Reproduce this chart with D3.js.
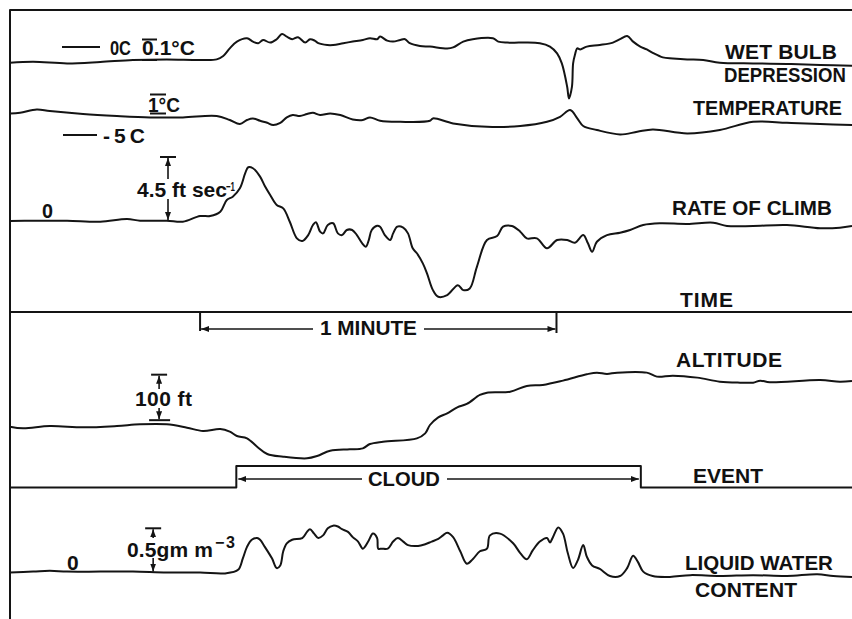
<!DOCTYPE html>
<html>
<head>
<meta charset="utf-8">
<script src="https://cdn.jsdelivr.net/npm/d3@7"></script>
<style>
  body { margin: 0; background: #fff; }
  svg { display: block; }
  text { font-family: "Liberation Sans", Arial, sans-serif; font-weight: bold; fill: #111; }
</style>
</head>
<body>
<div id="wrapper"></div>
<script>
const wetBulb = [[0,-0.079],[3.9,-0.074],[9.6,-0.082],[15.2,-0.075],[20.7,-0.065],[26.4,-0.062],[32.0,-0.065],[34.8,-0.062],[35.9,-0.045],[37.0,-0.007],[38.2,0.027],[39.9,0.044],[40.9,0.027],[41.8,0.019],[42.6,0.035],[43.8,0.022],[44.9,0.039],[45.8,0.065],[46.6,0.052],[47.5,0.039],[48.5,0.049],[49.7,0.022],[50.5,0.039],[51.3,0.032],[51.9,0.019],[53.4,0.010],[54.4,0.010],[56.1,0.019],[57.7,0.027],[59.4,0.035],[60.6,0.044],[61.8,0.039],[62.3,0.052],[63.5,0.032],[64.5,0.027],[65.7,0.035],[66.5,0.039],[67.3,0.019],[69.0,0.005],[70.7,0.002],[73.6,-0.007],[74.6,-0.002],[76.3,0.027],[77.9,0.039],[81.3,0.044],[82.2,0.027],[83.7,0.022],[85.9,0.022],[89.2,0.019],[90.9,0.002],[92.1,-0.032],[92.9,-0.082],[93.8,-0.199],[94.1,-0.257],[94.6,-0.199],[94.8,-0.082],[95.1,-0.040],[95.5,-0.007],[96.0,-0.012],[97.1,0.002],[99.3,0.010],[101.5,0.022],[102.7,0.039],[103.9,0.055],[104.9,0.027],[106.1,0.002],[107.2,-0.012],[108.2,-0.029],[109.9,-0.052],[111.6,-0.057],[114.0,-0.062],[116.7,-0.065],[119.5,-0.079],[125.1,-0.082],[130.8,-0.085],[136.4,-0.090],[141.75,-0.094]]; // deg C

const temperature = [[0,-3.92],[1.7,-3.89],[4.5,-3.72],[6.7,-3.80],[12.3,-3.95],[18.0,-4.05],[23.6,-4.12],[29.1,-4.12],[34.8,-4.05],[37.0,-4.25],[38.7,-4.45],[39.9,-4.25],[40.9,-4.17],[42.1,-4.29],[43.3,-4.39],[44.3,-4.50],[45.5,-4.39],[46.6,-4.12],[47.6,-4.00],[48.8,-4.05],[50.0,-3.95],[51.0,-3.89],[52.2,-4.00],[53.9,-3.92],[55.6,-4.00],[57.7,-4.22],[59.4,-4.25],[60.6,-4.12],[62.3,-4.29],[65.7,-4.34],[70.7,-4.29],[71.2,-4.17],[74.6,-4.42],[80.3,-4.59],[85.9,-4.55],[90.4,-4.34],[92.6,-4.09],[94.3,-3.75],[95.5,-4.17],[96.5,-4.55],[98.8,-4.75],[102.7,-4.97],[105.6,-4.84],[108.2,-4.72],[114.0,-4.92],[119.5,-4.75],[125.1,-4.34],[130.8,-4.39],[136.4,-4.45],[141.75,-4.50]]; // deg C

const rateOfClimb = [[0,0],[3.9,0.02],[9.6,0.02],[15.2,-0.05],[19.7,0.14],[21.9,0.02],[26.4,0.02],[29.1,-0.05],[32.0,0.35],[33.7,0.35],[35.4,0.65],[36.5,1.48],[37.5,1.71],[38.7,2.30],[39.6,3.36],[40.1,3.78],[40.9,3.71],[42.1,3.12],[42.9,2.46],[43.8,1.83],[44.9,1.13],[46.0,0.89],[47.1,-0.05],[48.3,-1.22],[49.2,-1.41],[50.2,-0.99],[51.0,-0.28],[51.5,-0.09],[52.2,-0.75],[52.7,-0.87],[53.5,-0.28],[54.4,-0.16],[55.2,-0.87],[55.9,-0.99],[56.7,-0.63],[57.6,-0.63],[58.4,-0.99],[59.3,-1.57],[59.9,-1.81],[60.4,-1.34],[60.9,-0.63],[61.8,-0.33],[62.3,-0.40],[63.1,-0.99],[64.0,-1.34],[64.5,-0.87],[65.2,-0.40],[66.2,-0.47],[67.0,-0.87],[67.8,-1.92],[68.5,-2.27],[69.5,-2.98],[70.2,-3.68],[71.2,-4.86],[72.1,-5.33],[73.6,-5.21],[75.4,-4.51],[76.3,-4.86],[77.4,-4.74],[78.6,-3.22],[80.3,-1.34],[82.0,-1.06],[83.0,-0.40],[84.5,-0.35],[85.9,-0.75],[87.0,-1.22],[88.7,-1.22],[90.4,-1.92],[92.1,-1.34],[93.8,-1.34],[95.1,-1.53],[96.5,-0.99],[97.3,-1.57],[98.0,-2.16],[98.8,-1.46],[100.5,-0.99],[102.7,-0.82],[104.4,-0.63],[106.6,-0.28],[109.4,-0.16],[114.0,-0.21],[118.4,-0.12],[120.7,-0.35],[125.1,-0.35],[130.8,-0.28],[136.4,-0.51],[139.7,-0.47],[141.75,-0.35]]; // ft/s

const altitude = [[0,0.7],[2.2,-2.9],[6.7,2.2],[12.3,-0.7],[18.0,2.2],[21.9,5.9],[26.4,5.9],[29.8,-1.5],[32.5,-8.8],[35.4,-4.4],[37.0,-10.3],[38.2,-19.8],[39.9,-24.9],[41.6,-43.3],[43.3,-59.4],[46.0,-65.3],[50.0,-68.9],[51.7,-63.8],[53.9,-52.1],[57.2,-49.1],[59.4,-46.9],[60.6,-37.4],[62.8,-32.3],[68.5,-24.9],[69.9,-13.9],[70.7,4.4],[72.1,21.3],[73.6,30.1],[75.3,43.3],[76.9,50.6],[79.1,70.4],[80.3,75.5],[84.2,77.7],[87.0,90.2],[89.7,92.4],[93.1,101.9],[97.1,115.9],[98.8,119.5],[100.5,116.6],[102.2,119.5],[107.2,119.5],[108.9,110.7],[111.6,112.9],[115.7,108.5],[119.5,99.7],[122.9,97.5],[125.1,97.5],[126.3,101.9],[127.9,98.3],[136.4,103.4],[139.7,99.7],[141.75,101.2]]; // ft, relative

const eventTimes = [0, 38.1, 106.2, 141.75];
const eventState = [0, 1, 0, 0]; // 1 = in cloud

const liquidWater = [[0,0.00],[3.9,0.01],[6.7,0.02],[9.6,0.01],[15.2,0.01],[20.7,0.01],[26.4,0.00],[32.0,0.00],[36.2,-0.01],[38.4,0.03],[39.2,0.16],[39.9,0.29],[40.7,0.37],[41.6,0.39],[42.1,0.37],[42.9,0.29],[44.1,0.16],[44.9,0.05],[45.5,0.08],[46.0,0.24],[46.6,0.33],[47.5,0.37],[49.2,0.39],[50.0,0.46],[50.5,0.49],[51.2,0.44],[51.9,0.39],[52.7,0.42],[53.5,0.50],[54.4,0.53],[55.2,0.52],[55.9,0.49],[56.9,0.46],[57.7,0.40],[58.6,0.35],[59.4,0.27],[60.3,0.35],[61.1,0.44],[61.8,0.39],[62.0,0.27],[62.6,0.27],[63.6,0.27],[64.5,0.35],[65.3,0.39],[66.2,0.35],[67.0,0.31],[68.7,0.30],[69.9,0.32],[71.0,0.35],[72.1,0.38],[72.9,0.42],[73.6,0.45],[74.6,0.40],[75.8,0.24],[76.9,0.10],[77.9,0.15],[79.1,0.24],[80.3,0.27],[80.8,0.42],[82.5,0.44],[84.7,0.33],[85.9,0.22],[87.0,0.15],[88.0,0.25],[89.2,0.35],[90.4,0.39],[90.9,0.34],[91.4,0.40],[92.3,0.51],[93.1,0.44],[93.9,0.22],[94.8,0.05],[95.6,0.14],[96.5,0.31],[97.1,0.18],[98.0,0.08],[99.3,0.04],[101.0,-0.04],[102.7,-0.04],[103.9,0.05],[104.9,0.19],[105.7,0.12],[106.6,0.01],[108.2,-0.04],[111.1,-0.05],[114.5,-0.03],[119.5,-0.04],[125.1,-0.03],[130.8,-0.04],[135.9,-0.02],[138.6,-0.04],[141.75,-0.05]]; // g m^-3

const minuteSpan = [32, 92]; // 1 minute bracket, s

const width = 852, height = 619;
const ink = "#141414";

const svg = d3.select("#wrapper").append("svg")
    .attr("width", width)
    .attr("height", height);

const defs = svg.append("defs");
defs.append("marker")
    .attr("id", "arrow")
    .attr("viewBox", "0 0 8 6")
    .attr("refX", 8).attr("refY", 3)
    .attr("markerWidth", 8).attr("markerHeight", 6)
    .attr("markerUnits", "userSpaceOnUse")
    .attr("orient", "auto")
  .append("path")
    .attr("d", "M0,0L8,3L0,6Z")
    .attr("fill", ink);

// time scale and one y scale per trace
const x = d3.scaleLinear().domain([0, 141.75]).range([10, 852]);
const yWet = d3.scaleLinear().domain([0, 0.1]).range([47, 27]);
const yTemp = d3.scaleLinear().domain([-5, -4]).range([135, 115]);
const yClimb = d3.scaleLinear().domain([0, 4.5]).range([221, 157]);
const yAlt = d3.scaleLinear().domain([0, 100]).range([427, 381.5]);
const yEvent = d3.scaleLinear().domain([0, 1]).range([487.5, 466]);
const yLwc = d3.scaleLinear().domain([0, 0.5]).range([572.5, 528.3]);
const timeLineY = 312;

function trace(data, y) {
    return d3.line()
        .x(d => x(d[0]))
        .y(d => y(d[1]))
        .curve(d3.curveCatmullRom.alpha(0.5))(data);
}

const traces = svg.append("g")
    .attr("fill", "none")
    .attr("stroke", ink)
    .attr("stroke-width", 2)
    .attr("stroke-linejoin", "round");

traces.append("path").attr("d", trace(wetBulb, yWet));
traces.append("path").attr("d", trace(temperature, yTemp));
traces.append("path").attr("d", trace(rateOfClimb, yClimb));
traces.append("path").attr("d", trace(altitude, yAlt));
traces.append("path").attr("d", trace(liquidWater, yLwc));

// event step trace
traces.append("path")
    .attr("d", d3.line()
        .x((d, i) => x(eventTimes[i]))
        .y(d => yEvent(d))
        .curve(d3.curveStepAfter)(eventState));

// frame + time line
traces.append("path")
    .attr("d", `M${x(0)},${height}V10H${width}`);
traces.append("line")
    .attr("x1", x(0)).attr("x2", width)
    .attr("y1", timeLineY).attr("y2", timeLineY);

// one minute bracket
const minY = 329;
traces.append("line").attr("x1", x(minuteSpan[0])).attr("x2", x(minuteSpan[0])).attr("y1", timeLineY).attr("y2", 331);
traces.append("line").attr("x1", x(minuteSpan[1])).attr("x2", x(minuteSpan[1])).attr("y1", timeLineY).attr("y2", 333);
traces.append("line").attr("x1", 313).attr("x2", x(minuteSpan[0]) + 1).attr("y1", minY).attr("y2", minY).attr("stroke-width", 1.6).attr("marker-end", "url(#arrow)");
traces.append("line").attr("x1", 424).attr("x2", x(minuteSpan[1]) - 1).attr("y1", minY).attr("y2", minY).attr("stroke-width", 1.6).attr("marker-end", "url(#arrow)");

// cloud arrows
const cloudY = 479;
traces.append("line").attr("x1", 362).attr("x2", x(eventTimes[1]) + 2).attr("y1", cloudY).attr("y2", cloudY).attr("stroke-width", 1.6).attr("marker-end", "url(#arrow)");
traces.append("line").attr("x1", 447).attr("x2", x(eventTimes[2]) - 2).attr("y1", cloudY).attr("y2", cloudY).attr("stroke-width", 1.6).attr("marker-end", "url(#arrow)");

// reference marks
traces.append("line").attr("x1", 62).attr("x2", 100).attr("y1", yWet(0)).attr("y2", yWet(0));
traces.append("line").attr("x1", 63).attr("x2", 97).attr("y1", yTemp(-5)).attr("y2", yTemp(-5));

// calibration bars
function calBar(cx, top, bottom, gapTop, gapBottom, bottomBar) {
    traces.append("line").attr("x1", cx - 8).attr("x2", cx + 8).attr("y1", top).attr("y2", top);
    traces.append("line").attr("x1", cx).attr("x2", cx).attr("y1", gapTop).attr("y2", top + 1)
        .attr("stroke-width", 1.6).attr("marker-end", "url(#arrow)");
    traces.append("line").attr("x1", cx).attr("x2", cx).attr("y1", gapBottom).attr("y2", bottom - 1)
        .attr("stroke-width", 1.6).attr("marker-end", "url(#arrow)");
    if (bottomBar) traces.append("line").attr("x1", cx - 10).attr("x2", cx + 11).attr("y1", bottom).attr("y2", bottom);
}
calBar(x(26.6), yClimb(4.5), yClimb(0), 179, 199, false);
calBar(x(25.1), yAlt(115), yAlt(15), 389, 408, true);
calBar(x(24.1), yLwc(0.5), yLwc(0), 538, 558, false);

// bars around "0" of 0.1°C and "1" of 1°C
traces.append("line").attr("x1", 142).attr("x2", 157).attr("y1", 39.5).attr("y2", 39.5);
traces.append("line").attr("x1", 142).attr("x2", 157).attr("y1", 60).attr("y2", 60);
traces.append("line").attr("x1", 150).attr("x2", 166).attr("y1", 94.5).attr("y2", 94.5);
traces.append("line").attr("x1", 150).attr("x2", 166).attr("y1", 113.5).attr("y2", 113.5);

// labels: text, x, baseline, width, font size
const labels = [
    ["WET BULB", 725, 59, 112, 21],
    ["DEPRESSION", 724, 81.5, 122, 21],
    ["TEMPERATURE", 693, 115, 149, 21],
    ["RATE OF CLIMB", 672, 215, 160, 21],
    ["TIME", 680, 307, 53, 21],
    ["ALTITUDE", 676, 367, 106, 21],
    ["EVENT", 693, 483, 70, 21],
    ["LIQUID WATER", 685, 570, 148, 21],
    ["CONTENT", 695, 597, 102, 21],
    ["1 MINUTE", 320, 335, 97, 21],
    ["CLOUD", 368, 486, 72, 21],
    ["0C", 110, 55, 21, 21],
    ["0.1°C", 142, 55, 53, 21],
    ["1°C", 148, 112, 32, 21],
    ["-5C", 103, 143, 42, 21],
    ["0", 42, 218, 11, 21],
    ["4.5 ft sec", 137, 197, 90, 21],
    ["100 ft", 135, 406, 57, 21],
    ["0", 67, 570, 13, 21],
    ["0.5gm m", 127, 557, 86, 21],
    ["\u22121", 226, 191, 9, 13],
    ["\u22123", 215, 548, 20, 16]
];

// squeeze wide texts horizontally, spread narrow ones
function fitText(sel) {
    sel.each(function(d) {
        const natural = this.getComputedTextLength();
        const t = d3.select(this);
        if (natural > d[3]) {
            t.attr("x", 0).attr("y", 0)
             .attr("transform", `translate(${d[1]},${d[2]}) scale(${d[3] / natural},1)`);
        } else {
            t.attr("textLength", d[3]).attr("lengthAdjust", "spacing");
        }
    });
}

svg.append("g").selectAll("text")
    .data(labels)
    .join("text")
    .attr("x", d => d[1])
    .attr("y", d => d[2])
    .style("font-size", d => d[4] + "px")
    .text(d => d[0])
    .call(fitText);
</script>
</body>
</html>
